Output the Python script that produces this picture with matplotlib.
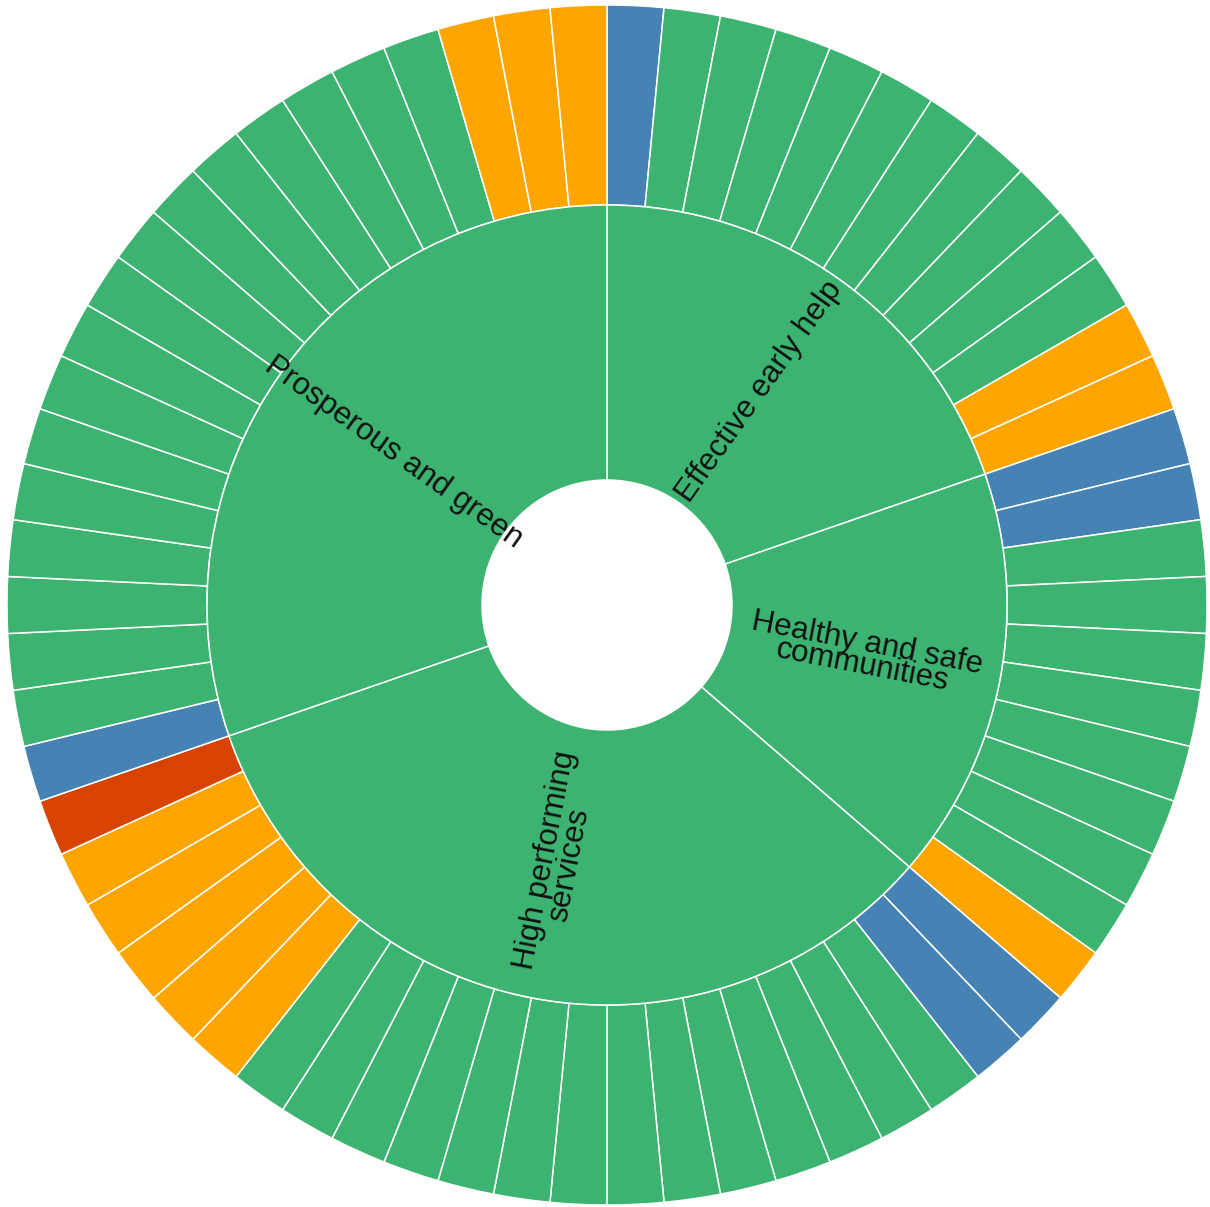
import matplotlib
matplotlib.use("Agg")
import matplotlib.pyplot as plt
import numpy as np

# Inner ring: priorities (clockwise from 12 o'clock)
categories = ["Effective early help", "Healthy and safe\ncommunities",
              "High performing\nservices", "Prosperous and green"]

# Outer ring: indicator RAG status per priority, clockwise
# B = blue, G = green, O = amber, R = red
effective_status = ["B", "G", "G", "G", "G", "G", "G", "G", "G", "G", "G", "O", "O"]
healthy_status = ["B", "B", "G", "G", "G", "G", "G", "G", "G", "G", "O"]
high_status = ["B", "B", "G", "G", "G", "G", "G", "G", "G", "G", "G", "G", "G", "G",
               "G", "G", "O", "O", "O", "O", "O", "R"]
prosperous_status = ["B", "G", "G", "G", "G", "G", "G", "G", "G", "G", "G", "G", "G",
                     "G", "G", "G", "G", "O", "O", "O"]

status_colors = {"G": "#3CB371", "O": "#FFA500", "B": "#4682B4", "R": "#D94300"}
category_color = "#3CB371"

groups = [effective_status, healthy_status, high_status, prosperous_status]
outer_status = [s for g in groups for s in g]
outer_values = [1] * len(outer_status)
inner_values = [len(g) for g in groups]

fig = plt.figure(figsize=(12.10, 12.07), dpi=100)
ax = fig.add_axes([0, 0, 1, 1])

R_OUT, R_MID, R_HOLE = 600, 400, 125
edge = dict(edgecolor="white", linewidth=1.1)

ax.pie(outer_values, radius=R_OUT, colors=[status_colors[s] for s in outer_status],
       startangle=90, counterclock=False,
       wedgeprops=dict(width=R_OUT - R_MID, **edge))
inner_wedges, _ = ax.pie(inner_values, radius=R_MID, colors=[category_color] * len(inner_values),
                         startangle=90, counterclock=False,
                         wedgeprops=dict(width=R_MID - R_HOLE, **edge))

r_lab = (R_MID + R_HOLE) / 2
for w, label in zip(inner_wedges, categories):
    mid = (w.theta1 + w.theta2) / 2
    rad = np.deg2rad(mid)
    x, y = r_lab * np.cos(rad), r_lab * np.sin(rad)
    rot = mid % 360
    if 90 < rot < 270:
        rot -= 180
    ax.text(x, y, label, rotation=rot, rotation_mode="anchor", ha="center", va="center",
            fontsize=22.5, family=["Liberation Sans", "DejaVu Sans"], color="#111111",
            linespacing=0.72, multialignment="center")

ax.set_xlim(-607, 603)
ax.set_ylim(-602, 605)
ax.set_aspect("equal")
ax.axis("off")

fig.savefig("out.png", dpi=100, facecolor="white")
